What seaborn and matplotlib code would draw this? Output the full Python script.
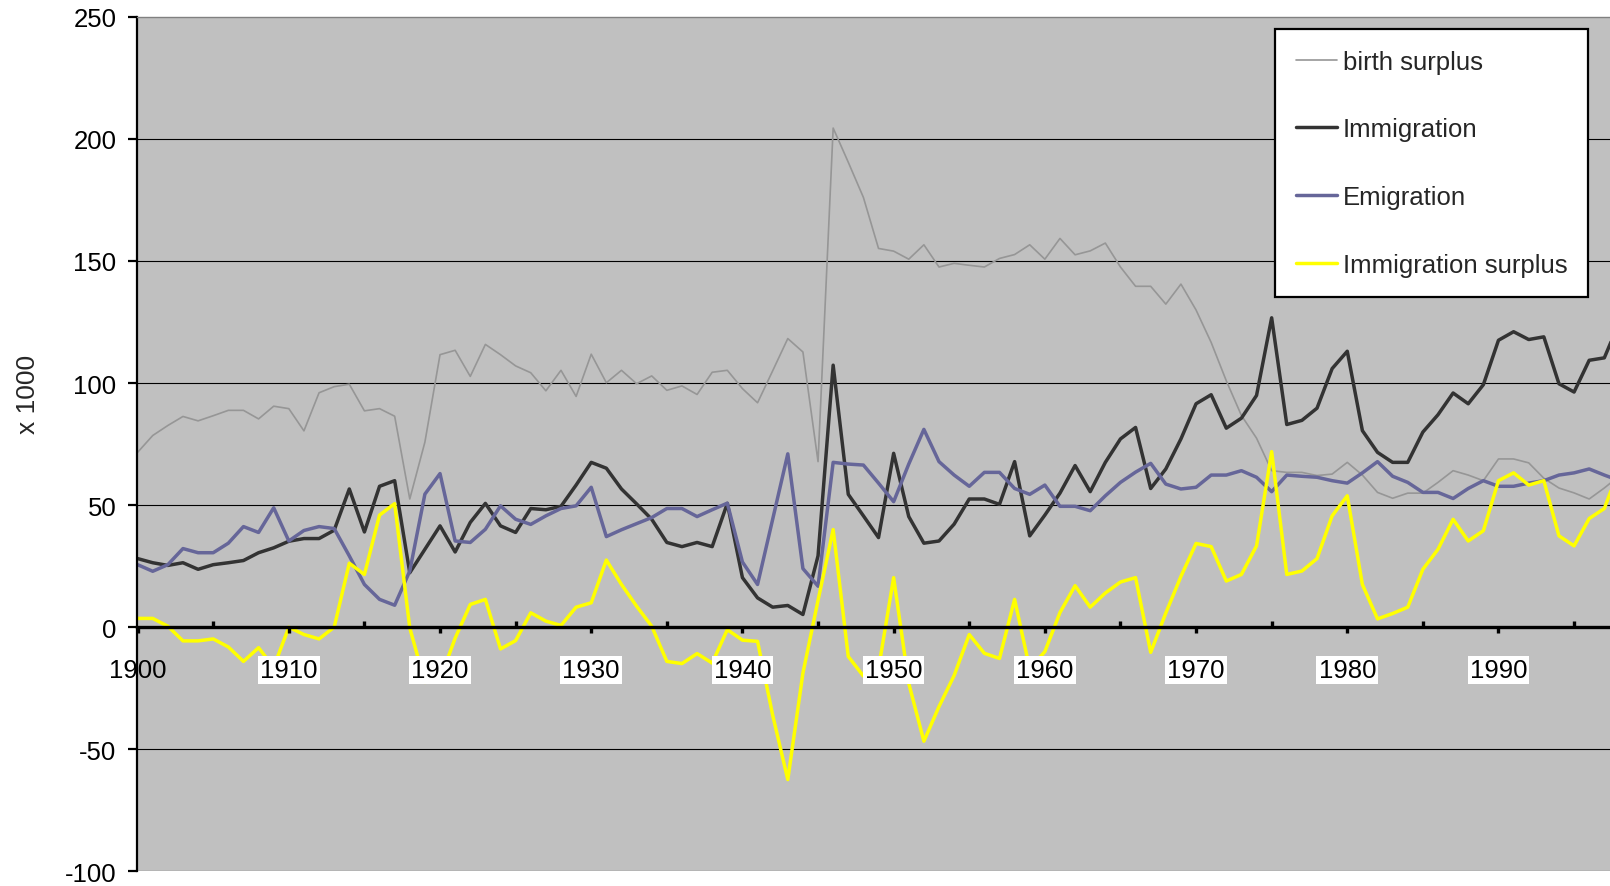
import matplotlib
matplotlib.use("Agg")
import matplotlib.pyplot as plt
import seaborn as sns
import pandas as pd
import numpy as np

years = list(range(1900, 1999))

birth_surplus = [
    71.6, 78.5, 82.6, 86.3, 84.5, 86.6, 88.8, 88.8, 85.3, 90.5,
    89.5, 80.4, 96.0, 98.5, 99.5, 88.6, 89.5, 86.4, 52.5, 75.8,
    111.6, 113.4, 102.7, 115.8, 111.6, 107.0, 104.2, 96.8, 105.2, 94.5,
    111.8, 100.1, 105.2, 99.7, 102.9, 97.0, 98.8, 95.3, 104.4, 105.2,
    97.7, 91.9, 105.0, 118.2, 112.7, 67.8, 204.4, 190.4, 176.0, 155.1,
    154.0, 150.7, 156.6, 147.5, 149.0, 148.2, 147.5, 151.0, 152.6, 156.6,
    150.7, 159.2, 152.5, 154.1, 157.3, 147.5, 139.6, 139.6, 132.3, 140.5,
    129.9, 116.6, 100.9, 86.7, 77.4, 64.1, 63.4, 63.4, 62.1, 62.7,
    67.5, 62.3, 55.2, 52.8, 54.9, 54.9, 59.3, 64.1, 62.3, 60.0,
    68.9, 68.9, 67.3, 61.0, 57.0, 55.0, 52.5, 57.0, 62.0,
]

immigration = [
    28.1, 26.4, 25.3, 26.4, 23.7, 25.6, 26.4, 27.3, 30.5, 32.5,
    35.2, 36.3, 36.3, 39.7, 56.6, 39.0, 57.7, 60.0, 22.3, 31.9,
    41.5, 30.8, 42.9, 50.7, 41.5, 38.8, 48.6, 48.1, 49.5, 58.2,
    67.5, 65.1, 56.6, 50.5, 44.2, 34.7, 33.0, 34.7, 33.0, 50.7,
    20.3, 12.0, 8.2, 8.9, 5.2, 29.2, 107.3, 54.4, 45.6, 36.7,
    71.2, 45.3, 34.4, 35.3, 42.2, 52.5, 52.5, 50.3, 67.8, 37.4,
    45.9, 54.9, 66.2, 55.5, 67.5, 77.1, 81.8, 56.8, 64.8, 77.1,
    91.5, 95.2, 81.5, 85.6, 94.9, 126.7, 83.0, 84.7, 89.7, 105.9,
    113.0, 80.5, 71.6, 67.5, 67.5, 79.9, 87.0, 95.9, 91.5, 99.3,
    117.5, 121.0, 117.8, 118.9, 99.7, 96.3, 109.3, 110.3, 125.0,
]

emigration = [
    25.6, 22.9, 25.6, 32.2, 30.5, 30.5, 34.4, 41.2, 38.8, 48.9,
    35.3, 39.6, 41.2, 40.4, 29.2, 17.5, 11.4, 9.0, 23.0, 54.5,
    62.9, 35.3, 34.7, 40.1, 49.7, 44.2, 42.1, 45.6, 48.6, 49.7,
    57.3, 37.1, 39.9, 42.4, 44.9, 48.6, 48.6, 45.3, 48.1, 50.8,
    26.7, 17.5, 44.2, 71.0, 24.0, 16.8, 67.5, 66.8, 66.4, 59.0,
    51.4, 66.8, 81.0, 67.8, 62.3, 57.7, 63.4, 63.4, 56.8, 54.4,
    58.2, 49.5, 49.5, 47.7, 53.8, 59.3, 63.5, 67.1, 58.6, 56.6,
    57.3, 62.3, 62.3, 64.1, 61.4, 55.5, 62.3, 61.8, 61.4, 60.0,
    59.0, 63.2, 67.8, 61.8, 59.3, 55.2, 55.2, 52.7, 56.8, 60.0,
    57.7, 57.7, 59.0, 60.0, 62.3, 63.2, 64.8, 62.3, 60.0,
]

immigration_surplus = [
    3.6, 3.6, 0.4, -5.6, -5.6, -4.8, -8.1, -14.0, -8.4, -16.4,
    0.0, -3.0, -4.8, 0.0, 26.2, 21.6, 45.9, 50.6, -0.3, -22.6,
    -21.4, -4.5, 9.3, 11.4, -8.9, -5.5, 5.9, 2.5, 0.7, 8.2,
    10.0, 27.5, 17.5, 8.6, 0.4, -14.0, -14.9, -10.8, -14.7, -1.0,
    -5.3, -5.8, -36.0, -62.4, -18.8, 11.0, 40.0, -12.0, -20.0, -17.0,
    20.3, -23.0, -46.7, -32.5, -19.8, -3.0, -10.7, -12.8, 11.4, -17.0,
    -10.0, 6.0, 17.0, 8.2, 14.0, 18.5, 20.3, -10.3, 5.8, 20.8,
    34.3, 33.0, 18.9, 21.6, 33.3, 71.9, 21.6, 23.0, 28.1, 45.6,
    53.8, 17.5, 3.4, 5.6, 8.2, 23.7, 31.9, 44.2, 35.3, 39.5,
    60.0, 63.2, 58.2, 60.0, 37.4, 33.3, 44.5, 48.6, 65.0,
]

series_names = ["birth surplus", "Immigration", "Emigration", "Immigration surplus"]
series_colors = ["#969696", "#333333", "#666699", "#FFFF00"]
series_widths = [1.2, 2.5, 2.5, 2.5]

y_ticks = [-100, -50, 0, 50, 100, 150, 200, 250]
decade_ticks = list(range(1900, 2000, 10))
half_ticks = list(range(1905, 2000, 10))
decade_labels = [str(d) for d in decade_ticks]

df = pd.DataFrame({
    "year": years,
    "birth surplus": birth_surplus,
    "Immigration": immigration,
    "Emigration": emigration,
    "Immigration surplus": immigration_surplus,
})

sns.set_style("white")
plt.rcParams["font.family"] = ["Liberation Sans", "DejaVu Sans"]
FS = 18.5

W, H = 1610, 887
fig = plt.figure(figsize=(W / 100, H / 100), dpi=100)
ax_left = 136.7 / W
ax_bottom = (H - 872.4) / H
ax_height = (872.4 - 17.7) / H
ax = fig.add_axes([ax_left, ax_bottom, 1 - ax_left, ax_height])
ax.set_facecolor("#C0C0C0")

for yv in y_ticks[:-1]:
    ax.axhline(yv, color="black", lw=0.8, zorder=1)

for name, col, lw in zip(series_names, series_colors, series_widths):
    sns.lineplot(data=df, x="year", y=name, color=col, linewidth=lw,
                 label=name, ax=ax, zorder=2)

px = 15.13
ax.set_xlim(1900 - 0.06, 1900 + (W - 136.7) / px)
ax.set_ylim(-100, 250)
ax.set_xlabel("")
ax.set_ylabel("")

ax.set_axisbelow(False)
ax.spines["right"].set_visible(False)
ax.spines["top"].set_color("#808080")
ax.spines["top"].set_linewidth(1.0)
ax.spines["left"].set_color("black")
ax.spines["left"].set_linewidth(1.6)
ax.spines["bottom"].set_position(("data", 0))
ax.spines["bottom"].set_color("black")
ax.spines["bottom"].set_linewidth(2.4)
ax.spines["bottom"].set_zorder(2.6)

ax.set_yticks(y_ticks)
ax.set_yticklabels([str(v) for v in y_ticks])
ax.tick_params(axis="y", direction="out", length=6.5, width=1.6,
               colors="black", labelsize=FS, pad=8, left=True)

ax.set_xticks(decade_ticks)
ax.set_xticklabels(decade_labels)
ax.set_xticks(half_ticks, minor=True)
ax.tick_params(axis="x", which="major", direction="out", length=4, width=2.4,
               colors="black", labelsize=FS, pad=18, bottom=True)
ax.tick_params(axis="x", which="minor", direction="in", length=4, width=2.4,
               colors="black", bottom=True)
for i, t in enumerate(ax.xaxis.get_major_ticks()):
    if i > 0:
        t.label1.set_bbox(dict(facecolor="white", edgecolor="none", pad=1.5))

fig.text(28 / W, 1 - 394 / H, "x 1000", rotation=90, ha="center", va="center",
         fontsize=FS + 0.5)

leg = ax.legend(loc="upper left", bbox_to_anchor=(0.7726, 0.9856),
                fontsize=FS, frameon=True, fancybox=False, framealpha=1,
                facecolor="white", edgecolor="black", borderpad=0.8,
                labelspacing=1.7, handlelength=1.6, handletextpad=0.25,
                borderaxespad=0)
leg.get_frame().set_linewidth(1.6)
leg.set_zorder(5)

fig.savefig("out.png", dpi=100, facecolor="white")
